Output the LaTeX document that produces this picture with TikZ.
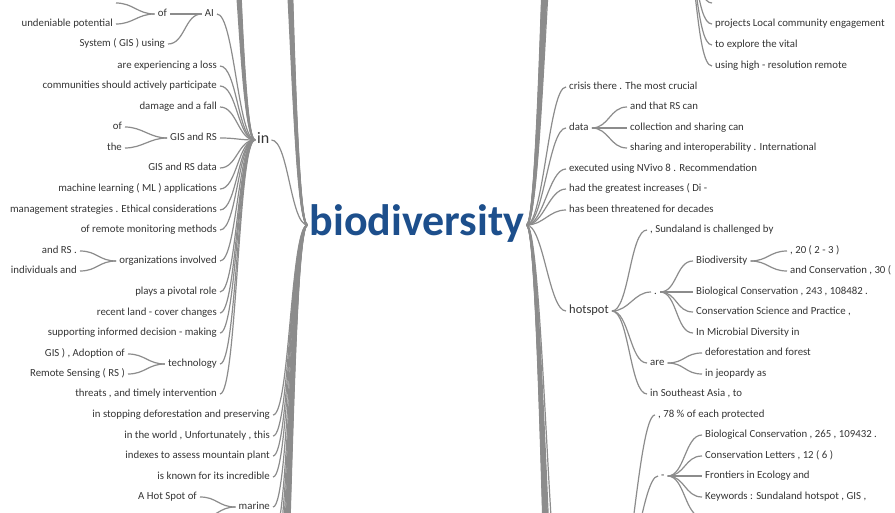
\documentclass[tikz,border=0pt]{standalone}
\usepackage{fontspec}
\setmainfont{Carlito}
\definecolor{linec}{HTML}{8C8C8C}
\definecolor{txtc}{HTML}{353535}
\definecolor{rootc}{HTML}{1D4F8C}
\tikzset{
  wt/.style={draw=linec, line width=1.2pt, out=0, in=180, distance=17pt},
  lt/.style={anchor=east, inner xsep=3pt, inner ysep=0pt, text height=7.3pt, text depth=2.3pt, text=txtc, font=\fontsize{10.8}{12}\selectfont},
  rt/.style={lt, anchor=west},
  bigin/.style={lt, anchor=west, inner xsep=2pt, text height=10.9pt, text depth=3.4pt, font=\fontsize{16}{18}\selectfont},
  hot/.style={rt, text height=8.5pt, text depth=2.6pt, font=\fontsize{12.5}{14}\selectfont},
  root/.style={inner xsep=2pt, inner ysep=0pt, text height=29.5pt, text depth=9.2pt, text=rootc, font=\bfseries\fontsize{44}{48}\selectfont},
}
\begin{document}
\begin{tikzpicture}[x=1pt,y=-1pt]
\useasboundingbox (0,0) rectangle (895,513);
\fill[white] (0,0) rectangle (895,513);
\clip (0,0) rectangle (895,513);

% root
\node[root] (bio) at (417,225) {biodiversity};

% ---------- left side ----------
\node[bigin] (in) at (255,140) {in};
\node[lt] (a1) at (116,24) {undeniable potential};
\node[lt] (of1) at (170,14) {of};
\node[lt] (AI) at (217,14) {AI};
\node[lt] (a2) at (168,44) {System ( GIS ) using};
\node[lt] (i1) at (220,66) {are experiencing a loss};
\node[lt] (i2) at (220,86) {communities should actively participate};
\node[lt] (i3) at (220,107) {damage and a fall};
\node[lt] (g1) at (125,127) {of};
\node[lt] (g2) at (125,148) {the};
\node[lt] (gis) at (220,138) {GIS and RS};
\node[lt] (i4) at (220,168) {GIS and RS data};
\node[lt] (i5) at (220,189) {machine learning ( ML ) applications};
\node[lt] (i6) at (220,210) {management strategies . Ethical considerations};
\node[lt] (i7) at (220,230) {of remote monitoring methods};
\node[lt] (o1) at (80,251) {and RS .};
\node[lt] (o2) at (80,271) {individuals and};
\node[lt] (org) at (220,261) {organizations involved};
\node[lt] (i8) at (220,292) {plays a pivotal role};
\node[lt] (i9) at (220,313) {recent land - cover changes};
\node[lt] (i10) at (220,333) {supporting informed decision - making};
\node[lt] (t1) at (128,354) {GIS ) , Adoption of};
\node[lt] (t2) at (128,374) {Remote Sensing ( RS )};
\node[lt] (tech) at (220,364) {technology};
\node[lt] (i11) at (220,394) {threats , and timely intervention};
\node[lt] (b1) at (273,415) {in stopping deforestation and preserving};
\node[lt] (b2) at (273,436) {in the world , Unfortunately , this};
\node[lt] (b3) at (273,456) {indexes to assess mountain plant};
\node[lt] (b4) at (273,477) {is known for its incredible};
\node[lt] (m1) at (200,497) {A Hot Spot of};
\node[lt] (mar) at (273,507) {marine};
\coordinate (a0) at (116,3);
\coordinate (m2) at (200,518);

\draw[wt] (a0) to (of1.west);
\draw[wt] (a1.east) to (of1.west);
\draw[wt] (of1.east) to (AI.west);
\draw[wt] (a2.east) to (AI.west);
\draw[wt] (g1.east) to (gis.west);
\draw[wt] (g2.east) to (gis.west);
\draw[wt] (o1.east) to (org.west);
\draw[wt] (o2.east) to (org.west);
\draw[wt] (t1.east) to (tech.west);
\draw[wt] (t2.east) to (tech.west);
\draw[wt] (m1.east) to (mar.west);
\draw[wt] (m2) to (mar.west);
\foreach \n in {AI,i1,i2,i3,gis,i4,i5,i6,i7,org,i8,i9,i10,tech,i11}
  \draw[wt] (\n.east) to (in.west);
\foreach \k in {0,...,7}
  \draw[wt] (220,-130-28*\k) to (in.west);
\foreach \n in {in,b1,b2,b3,b4,mar}
  \draw[wt] (\n.east) to (bio.west);
\foreach \k in {0,...,11}
  \draw[wt] (273,-140-24*\k) to (bio.west);
\foreach \k in {0,...,11}
  \draw[wt] (273,538+24*\k) to (bio.west);

% ---------- right side ----------
\coordinate (topP) at (680,-60);
\coordinate (p0) at (712,3);
\node[rt] (p1) at (712,24) {projects Local community engagement};
\node[rt] (p2) at (712,45) {to explore the vital};
\node[rt] (p3) at (712,66) {using high - resolution remote};
\node[rt] (r1) at (566,87) {crisis there . The most crucial};
\node[rt] (data) at (566,128) {data};
\node[rt] (d1) at (627,107) {and that RS can};
\node[rt] (d2) at (627,128) {collection and sharing can};
\node[rt] (d3) at (627,148) {sharing and interoperability . International};
\node[rt] (r2) at (566,169) {executed using NVivo 8 . Recommendation};
\node[rt] (r3) at (566,189) {had the greatest increases ( Di -};
\node[rt] (r4) at (566,210) {has been threatened for decades};
\node[hot] (hot) at (566,311) {hotspot};
\node[rt] (h1) at (647,230) {, Sundaland is challenged by};
\node[rt] (dot) at (651,292) {.};
\node[rt] (bd) at (693,261) {Biodiversity};
\node[rt] (bd1) at (787,251) {, 20 ( 2 - 3 )};
\node[rt] (bd2) at (787,271) {and Conservation , 30 (};
\node[rt] (dt2) at (693,292) {Biological Conservation , 243 , 108482 .};
\node[rt] (dt3) at (693,312) {Conservation Science and Practice ,};
\node[rt] (dt4) at (693,333) {In Microbial Diversity in};
\node[rt] (are) at (647,363) {are};
\node[rt] (ar1) at (702,353) {deforestation and forest};
\node[rt] (ar2) at (702,374) {in jeopardy as};
\node[rt] (h4) at (647,394) {in Southeast Asia , to};
\coordinate (lowIn) at (566,640);
\coordinate (lowOut) at (612,620);
\node[rt] (l1) at (655,415) {, 78 \% of each protected};
\node[rt] (dash) at (658,476) {-};
\node[rt] (ds1) at (702,435) {Biological Conservation , 265 , 109432 .};
\node[rt] (ds2) at (702,456) {Conservation Letters , 12 ( 6 )};
\node[rt] (ds3) at (702,476) {Frontiers in Ecology and};
\node[rt] (ds4) at (702,497) {Keywords : Sundaland hotspot , GIS ,};
\coordinate (ds5) at (702,517);

\foreach \n in {p0,p1.west,p2.west,p3.west}
  \draw[wt] (topP) to (\n);
\foreach \n in {r1,data,r2,r3,r4,hot}
  \draw[wt] (bio.east) to (\n.west);
\draw[wt] (bio.east) to (lowIn);
\foreach \k in {0,...,11}
  \draw[wt] (bio.east) to (566,-180-32*\k);
\foreach \k in {0,...,11}
  \draw[wt] (bio.east) to (566,720+32*\k);
\foreach \n in {d1,d2,d3}
  \draw[wt] (data.east) to (\n.west);
\foreach \n in {h1,dot,are,h4}
  \draw[wt] (hot.east) to (\n.west);
\foreach \n in {bd,dt2,dt3,dt4}
  \draw[wt] (dot.east) to (\n.west);
\foreach \n in {bd1,bd2}
  \draw[wt] (bd.east) to (\n.west);
\foreach \n in {ar1,ar2}
  \draw[wt] (are.east) to (\n.west);
\draw[wt] (lowOut) to (l1.west);
\draw[wt] (lowOut) to (dash.west);
\foreach \n in {ds1,ds2,ds3,ds4}
  \draw[wt] (dash.east) to (\n.west);
\draw[wt] (dash.east) to (ds5);
\end{tikzpicture}
\end{document}
